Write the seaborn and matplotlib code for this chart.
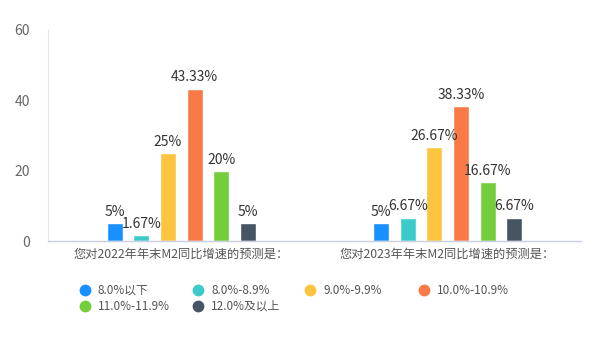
import matplotlib
matplotlib.use("Agg")
import matplotlib.pyplot as plt
import seaborn as sns
import pandas as pd
from matplotlib.lines import Line2D

questions = ["您对2022年年末M2同比增速的预测是：", "您对2023年年末M2同比增速的预测是："]
ranges = ["8.0%以下", "8.0%-8.9%", "9.0%-9.9%", "10.0%-10.9%", "11.0%-11.9%", "12.0%及以上"]
values_2022 = [5, 1.67, 25, 43.33, 20, 5]
values_2023 = [5, 6.67, 26.67, 38.33, 16.67, 6.67]
colors = ["#1890FF", "#3CCBCA", "#FCC43F", "#FA7A47", "#74CE3C", "#455563"]
yticks = [0, 20, 40, 60]

sns.set_theme(style="white")
plt.rcParams["font.family"] = ["Noto Sans CJK SC", "DejaVu Sans"]

rows = []
for q, vals in zip(questions, [values_2022, values_2023]):
    for r, v in zip(ranges, vals):
        rows.append({"question": q, "range": r, "value": v})
df = pd.DataFrame(rows)

fig = plt.figure(figsize=(6, 3.4), dpi=100)
ax = fig.add_axes([0.08, 0.291, 0.888, 0.621])

sns.barplot(data=df, x="question", y="value", hue="range", hue_order=ranges,
            order=questions, palette=colors, width=0.6, gap=0.4, legend=False,
            saturation=1, ax=ax, errorbar=None)

def fmt(v):
    s = f"{v:g}"
    return s + "%"

for i, cont in enumerate(ax.containers):
    labs = [fmt(values_2022[i]), fmt(values_2023[i])]
    ax.bar_label(cont, labels=labs, padding=3, fontsize=10, color="#333333")

ax.set_ylim(0, 60)
ax.set_xlim(-0.5, 1.5)
ax.set_yticks(yticks)
ax.set_xlabel("")
ax.set_ylabel("")
ax.tick_params(axis="y", colors="#666666", labelsize=10, length=0, pad=13)
ax.tick_params(axis="x", colors="#555555", labelsize=8.8, length=0, pad=5)
for lab in ax.get_xticklabels():
    lab.set_color("#555555")
for s in ["top", "right"]:
    ax.spines[s].set_visible(False)
ax.spines["left"].set_color("#E3E6EE")
ax.spines["bottom"].set_color("#C8D0E0")
ax.spines["left"].set_linewidth(0.8)
ax.spines["bottom"].set_linewidth(1)

# legend (manual layout, 4 columns)
col_x = [85, 198, 310, 424]
row_y = [290, 306]
for k, (r, c) in enumerate(zip(ranges, colors)):
    cx = col_x[k % 4] / 600
    cy = 1 - row_y[k // 4] / 340
    fig.add_artist(Line2D([cx], [cy], marker="o", markersize=7.5, color=c,
                          linestyle="none", transform=fig.transFigure))
    fig.text(cx + 13 / 600, cy, r, fontsize=8.5, color="#555555",
             va="center", ha="left")

fig.savefig("out.png", dpi=100)
